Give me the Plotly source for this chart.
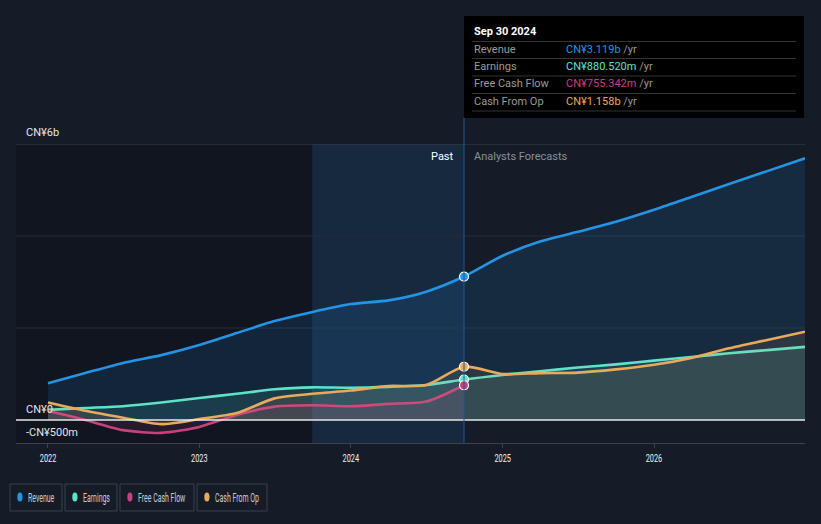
import json
import plotly.graph_objects as go

# ---------------- data ----------------
past_dates = ["2022-01-01", "2022-04-01", "2022-07-01", "2022-10-01", "2023-01-01",
              "2023-04-01", "2023-07-01", "2023-10-01", "2024-01-01", "2024-04-01",
              "2024-07-01", "2024-09-30"]
fc_dates = ["2025-01-01", "2025-04-01", "2025-07-01", "2025-10-01", "2026-01-01",
            "2026-04-01", "2026-07-01", "2026-10-01", "2026-12-31"]

revenue_past = [0.80, 1.02, 1.24, 1.41, 1.63, 1.89, 2.15, 2.35, 2.52, 2.60, 2.79, 3.119]
revenue_fc = [3.57, 3.88, 4.09, 4.31, 4.57, 4.85, 5.13, 5.41, 5.69]
earnings_past = [0.22, 0.26, 0.30, 0.38, 0.48, 0.57, 0.67, 0.71, 0.70, 0.72, 0.76, 0.8805]
earnings_fc = [0.98, 1.06, 1.14, 1.21, 1.29, 1.37, 1.45, 1.52, 1.59]
fcf_past = [0.20, 0.00, -0.22, -0.28, -0.15, 0.11, 0.29, 0.32, 0.30, 0.35, 0.40, 0.755]
cfo_past = [0.38, 0.20, 0.05, -0.09, 0.02, 0.15, 0.47, 0.57, 0.64, 0.74, 0.76, 1.158]
cfo_fc = [1.00, 1.02, 1.03, 1.10, 1.20, 1.35, 1.56, 1.74, 1.92]

series_names = ["Revenue", "Earnings", "Free Cash Flow", "Cash From Op"]
series_colors = ["#2394e6", "#5ee3c9", "#c8417f", "#e9aa5b"]
fill_colors = ["rgba(35,148,230,0.13)", "rgba(94,227,201,0.13)",
               "rgba(200,65,127,0.13)", "rgba(233,170,91,0.10)"]
tooltip_date = "Sep 30 2024"
tooltip_values = ["CN¥3.119b", "CN¥880.520m", "CN¥755.342m", "CN¥1.158b"]
year_ticks = ["2022-01-01", "2023-01-01", "2024-01-01", "2025-01-01", "2026-01-01"]
year_labels = ["2022", "2023", "2024", "2025", "2026"]
grid_vals = [2, 4]
y_labels = [(6, "CN¥6b"), (0, "CN¥0"), (-0.5, "-CN¥500m")]
now_date = "2024-09-30"
highlight_start = "2023-09-30"

# ---------------- layout helpers (pixel -> paper) ----------------
W, H = 821, 524
L, R, T, B = 16, 805, 144, 443


def px(x):
    return (x - L) / (R - L)


def py(y):
    return (B - y) / (B - T)


FONT = "Roboto, Arial, sans-serif"
BG = "#151c28"

fig = go.Figure()

all_series = [
    (past_dates + fc_dates, revenue_past + revenue_fc),
    (past_dates + fc_dates, earnings_past + earnings_fc),
    (past_dates, fcf_past),
    (past_dates + fc_dates, cfo_past + cfo_fc),
]

for (xs, ys), name, col, fcol in zip(all_series, series_names, series_colors, fill_colors):
    fig.add_trace(go.Scatter(
        x=xs, y=ys, mode="lines", name=name,
        line=dict(color=col, width=2.6, shape="spline", smoothing=0.7),
        fill="tozeroy", fillcolor=fcol, showlegend=False, hoverinfo="skip"))

now_vals = [revenue_past[-1], earnings_past[-1], fcf_past[-1], cfo_past[-1]]
for v, col in zip(now_vals, series_colors):
    fig.add_trace(go.Scatter(
        x=[now_date], y=[v], mode="markers",
        marker=dict(color=col, size=9, line=dict(color="white", width=1.2)),
        showlegend=False, hoverinfo="skip"))

shapes = []
shapes.append(dict(type="rect", xref="x", yref="paper", x0="2021-10-16", x1=highlight_start,
                   y0=0, y1=1, fillcolor="rgba(0,0,0,0.22)", line_width=0, layer="below"))
shapes.append(dict(type="rect", xref="x", yref="paper", x0=highlight_start, x1=now_date,
                   y0=0, y1=1, fillcolor="rgba(30,110,185,0.16)", line_width=0, layer="below"))
for g in grid_vals:
    shapes.append(dict(type="line", xref="paper", yref="y", x0=0, x1=1, y0=g, y1=g,
                       line=dict(color="#262c37", width=1), layer="below"))
shapes.append(dict(type="line", xref="paper", yref="y", x0=0, x1=1, y0=6, y1=6,
                   line=dict(color="#3d424c", width=1), layer="below"))
shapes.append(dict(type="line", xref="paper", yref="y", x0=0, x1=1, y0=0, y1=0,
                   line=dict(color="#e8e8e8", width=1.3)))
shapes.append(dict(type="line", xref="x", yref="paper", x0=now_date, x1=now_date,
                   y0=0, y1=py(118), line=dict(color="#1d5b8c", width=1)))

# tooltip box
shapes.append(dict(type="rect", xref="paper", yref="paper", x0=px(464), x1=px(804),
                   y0=py(118), y1=py(16), fillcolor="#000000", line_width=0))
for sy in [41.5, 58.5, 76, 93.5, 111]:
    shapes.append(dict(type="line", xref="paper", yref="paper", x0=px(472), x1=px(796),
                       y0=py(sy), y1=py(sy), line=dict(color="#333333", width=1)))

annotations = []
annotations.append(dict(xref="paper", yref="paper", x=px(472), y=py(31), text="<b>" + tooltip_date + "</b>",
                        showarrow=False, xanchor="left", yanchor="middle",
                        font=dict(family=FONT, size=11, color="#ffffff")))
row_y = [49.5, 66.5, 84, 101.5]
for name, val, col, ry in zip(series_names, tooltip_values, series_colors, row_y):
    annotations.append(dict(xref="paper", yref="paper", x=px(472), y=py(ry), text=name,
                            showarrow=False, xanchor="left", yanchor="middle",
                            font=dict(family=FONT, size=11, color="#9a9a9a")))
    annotations.append(dict(xref="paper", yref="paper", x=px(564), y=py(ry),
                            text=f"<span style='color:{col}'>{val}</span> /yr",
                            showarrow=False, xanchor="left", yanchor="middle",
                            font=dict(family=FONT, size=11, color="#9a9a9a")))

label_py = {6: 132, 0: 409, -0.5: 432}
for v, t in y_labels:
    annotations.append(dict(xref="paper", yref="paper", x=px(24), y=py(label_py[v]), text=t,
                            showarrow=False, xanchor="left", yanchor="middle",
                            font=dict(family=FONT, size=11, color="#e6e6e6")))

annotations.append(dict(xref="paper", yref="paper", x=px(456), y=py(156), text="Past",
                        showarrow=False, xanchor="right", yanchor="middle",
                        font=dict(family=FONT, size=11, color="#ffffff")))
annotations.append(dict(xref="paper", yref="paper", x=px(472), y=py(156), text="Analysts Forecasts",
                        showarrow=False, xanchor="left", yanchor="middle",
                        font=dict(family=FONT, size=11, color="#8a8f98")))

# legend boxes (text is condensed like the reference)
legend_boxes = [(10, 62), (65, 117), (120, 194), (197, 267)]
legend_idx = []
for (x0, x1), name, col in zip(legend_boxes, series_names, series_colors):
    shapes.append(dict(type="rect", xref="paper", yref="paper", x0=px(x0), x1=px(x1),
                       y0=py(511), y1=py(484), line=dict(color="#3a3f4a", width=1),
                       fillcolor="rgba(0,0,0,0)"))
    shapes.append(dict(type="circle", xref="paper", yref="paper", x0=px(x0 + 7.3), x1=px(x0 + 12.5),
                       y0=py(501.5), y1=py(492.5), fillcolor=col, line_width=0))
    legend_idx.append(len(annotations))
    annotations.append(dict(xref="paper", yref="paper", x=px(x0 + 16), y=py(497.5), text=name,
                            showarrow=False, xanchor="left", yanchor="middle",
                            font=dict(family=FONT, size=12, color="#cccccc")))

fig.update_layout(
    width=W, height=H,
    margin=dict(l=L, r=W - R, t=T, b=H - B),
    paper_bgcolor=BG, plot_bgcolor=BG,
    shapes=shapes, annotations=annotations,
    showlegend=False,
    xaxis=dict(type="date", range=["2021-10-16", "2026-12-31"], tickvals=year_ticks,
               ticktext=year_labels, showgrid=False, zeroline=False,
               showline=True, linecolor="#3d424c", linewidth=1,
               ticks="outside", ticklen=4, tickcolor="#3d424c",
               tickfont=dict(family=FONT, size=11.5, color="#f0f0f0")),
    yaxis=dict(range=[-0.5, 6], showgrid=False, zeroline=False, showticklabels=False,
               fixedrange=True),
)

post_js = """
document.body.style.margin='0';
var gd=document.getElementById('{plot_id}');
function sq(t,s,anchorLeft){
  var bb=t.getBBox();
  var cx=anchorLeft?bb.x:(bb.x+bb.width/2);
  var tr=t.getAttribute('transform')||'';
  t.setAttribute('transform',tr+' translate('+cx+',0) scale('+s+',1) translate('+(-cx)+',0)');
}
gd.querySelectorAll('.xtick text').forEach(function(t){sq(t,0.64,false);});
var idx=LEGIDX;
idx.forEach(function(i){
  var t=gd.querySelector('g.annotation[data-index="'+i+'"] text');
  if(t){sq(t,0.58,true);}
});
""".replace("LEGIDX", json.dumps(legend_idx))

fig.write_html("out.html", post_script=post_js,
               config={"displayModeBar": False, "staticPlot": True})
